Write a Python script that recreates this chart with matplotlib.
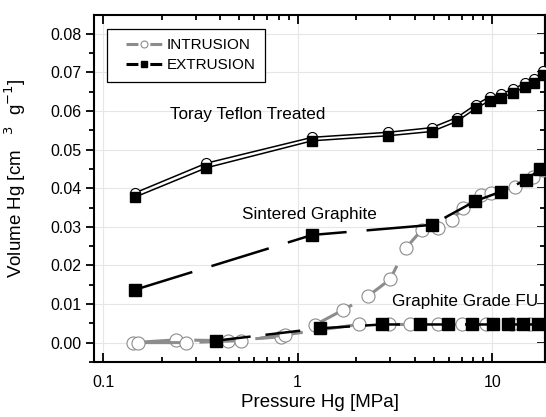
import numpy as np
import matplotlib
matplotlib.use("Agg")
import matplotlib.pyplot as plt
from matplotlib.lines import Line2D
from matplotlib.legend_handler import HandlerLine2D
from matplotlib.ticker import LogLocator, FixedLocator, MultipleLocator

plt.rcParams['font.family'] = ['Liberation Sans', 'DejaVu Sans']

# Toray Teflon Treated
toray_p_in = [0.146, 0.34, 1.19, 2.91, 4.89, 6.57, 8.25, 9.73, 11.1, 12.8, 14.7, 16.4, 18.3]
toray_v_in = [0.0388, 0.0465, 0.0532, 0.0545, 0.0557, 0.0583, 0.0617, 0.0637, 0.0645, 0.0656, 0.0673, 0.0682, 0.0704]
toray_p_ex = [0.146, 0.34, 1.19, 2.91, 4.89, 6.57, 8.25, 9.73, 11.1, 12.8, 14.7, 16.4, 18.3]
toray_v_ex = [0.0377, 0.0453, 0.0523, 0.0536, 0.0547, 0.0573, 0.0607, 0.0627, 0.0635, 0.0646, 0.0663, 0.0672, 0.0694]

# Sintered Graphite
sint_p_in = [0.143, 0.236, 0.44, 0.82, 1.23, 1.72, 2.31, 2.99, 3.6, 4.35, 5.28, 6.19, 7.1, 8.8, 9.9, 13.1, 16.2, 18.3]
sint_v_in = [0.0, 0.0007, 0.0005, 0.0015, 0.0046, 0.0085, 0.0121, 0.0164, 0.0245, 0.0292, 0.0296, 0.0318, 0.0348, 0.0383, 0.0387, 0.0404, 0.0430, 0.0447]
sint_p_ex = [0.146, 1.19, 4.89, 8.2, 11.1, 14.9, 17.7]
sint_v_ex = [0.0137, 0.0279, 0.0305, 0.0367, 0.0391, 0.0421, 0.0450]

# Graphite Grade FU
fu_p_in = [0.152, 0.268, 0.51, 0.86, 2.06, 2.95, 3.78, 5.27, 6.98, 9.29, 12.6, 15.6]
fu_v_in = [0.0, 0.0, 0.0005, 0.0020, 0.0047, 0.0047, 0.0047, 0.0047, 0.0047, 0.0047, 0.0047, 0.0047]
fu_p_ex = [0.38, 1.31, 2.71, 4.26, 5.96, 7.86, 10.1, 12.1, 14.4, 17.2]
fu_v_ex = [0.0005, 0.0037, 0.0047, 0.0047, 0.0047, 0.0047, 0.0047, 0.0047, 0.0047, 0.0047]

grey = '#8c8c8c'


class ShiftedLine(HandlerLine2D):
    # leaves some blank room before the legend line, like the original box
    def create_artists(self, legend, orig_handle, xdescent, ydescent, width,
                       height, fontsize, trans):
        off = 0.22 * width
        return super().create_artists(legend, orig_handle, xdescent - off, ydescent,
                                      width - off, height, fontsize, trans)


fig = plt.figure(figsize=(5.46, 4.17), dpi=100)
ax = fig.add_axes([0.1722, 0.1312, 0.826, 0.8329])

# Toray: thin solid black double line
ax.plot(toray_p_in, toray_v_in, color='black', lw=1.1, marker='o', ms=7.2,
        mfc='white', mec='black', mew=0.8, zorder=3)
ax.plot(toray_p_ex, toray_v_ex, color='black', lw=1.1, marker='s', ms=6.5,
        mfc='black', mec='black', zorder=4)

# intrusion curves (grey dashed, open circles)
ax.plot(sint_p_in, sint_v_in, color=grey, lw=2.2, ls=(0, (14, 6)), marker='o', ms=9.4,
        mfc='white', mec=grey, mew=0.8, zorder=3)
ax.plot(fu_p_in, fu_v_in, color=grey, lw=2.2, ls=(0, (14, 6)), marker='o', ms=9.4,
        mfc='white', mec=grey, mew=0.8, zorder=3)

# extrusion curves (black dashed, filled squares)
ax.plot(sint_p_ex, sint_v_ex, color='black', lw=1.8, ls=(0, (24, 8)), marker='s', ms=9,
        mfc='black', mec='black', zorder=4)
ax.plot(fu_p_ex, fu_v_ex, color='black', lw=1.8, ls=(0, (14, 6)), marker='s', ms=8.6,
        mfc='black', mec='black', zorder=4)

ax.set_xscale('log')
ax.set_xlim(0.0899, 18.7)
ax.set_ylim(-0.0051, 0.0849)

ax.xaxis.set_major_locator(FixedLocator([0.1, 1, 10]))
ax.xaxis.set_minor_locator(LogLocator(base=10, subs=np.arange(2, 10)))
ax.set_xticklabels(['0.1', '1', '10'])
ax.yaxis.set_major_locator(MultipleLocator(0.01))
ax.yaxis.set_minor_locator(MultipleLocator(0.005))
ax.yaxis.set_major_formatter(plt.FormatStrFormatter('%.2f'))

ax.grid(True, which='major', color='#e6e6e6', lw=0.8, zorder=0)
ax.set_axisbelow(True)

for s in ax.spines.values():
    s.set_linewidth(1.5)

ax.tick_params(axis='x', which='both', direction='in', top=True, labelsize=11.5, width=1.3, pad=9)
ax.tick_params(axis='x', which='major', length=6.5)
ax.tick_params(axis='x', which='minor', length=3.5)
ax.tick_params(axis='y', which='both', direction='out', labelsize=11.5, width=1.3, pad=3)
ax.tick_params(axis='y', which='major', length=6)
ax.tick_params(axis='y', which='minor', length=3.5)

# right-hand ticks pointing inward
sec = ax.secondary_yaxis('right')
sec.yaxis.set_major_locator(MultipleLocator(0.01))
sec.yaxis.set_minor_locator(MultipleLocator(0.005))
sec.tick_params(which='both', direction='in', labelright=False, width=1.3)
sec.tick_params(which='major', length=6)
sec.tick_params(which='minor', length=3.5)
sec.spines['right'].set_linewidth(1.5)

ax.set_xlabel('Pressure Hg [MPa]', fontsize=13.5)
ax.set_ylabel('Volume Hg [cm   $^{3}$  g$^{-1}$]', fontsize=13.5)
ax.xaxis.set_label_coords(0.5, -0.09)
ax.yaxis.set_label_coords(-0.146, 0.531)

ax.text(0.222, 0.0592, 'Toray Teflon Treated', fontsize=12.3, va='center', ha='left')
ax.text(0.52, 0.0331, 'Sintered Graphite', fontsize=12.3, va='center', ha='left')
ax.text(3.06, 0.0106, 'Graphite Grade FU', fontsize=12.3, va='center', ha='left')

h_in = Line2D([], [], color=grey, lw=2.2, ls=(0, (3.9, 3.9)), marker='o', ms=5,
              mfc='white', mec=grey, mew=0.8)
h_ex = Line2D([], [], color='black', lw=2.2, ls=(0, (3.9, 3.9)), marker='s', ms=5,
              mfc='black', mec='black')
leg = ax.legend([h_in, h_ex], ['INTRUSION', 'EXTRUSION'], loc='upper left',
                bbox_to_anchor=(0.028, 0.96), borderaxespad=0, fancybox=False,
                edgecolor='black', framealpha=1, fontsize=11, handlelength=3.0,
                borderpad=0.6, labelspacing=0.42, handletextpad=0.35,
                handler_map={Line2D: ShiftedLine()})
leg.get_frame().set_linewidth(0.9)

fig.savefig('out.png', dpi=100)
